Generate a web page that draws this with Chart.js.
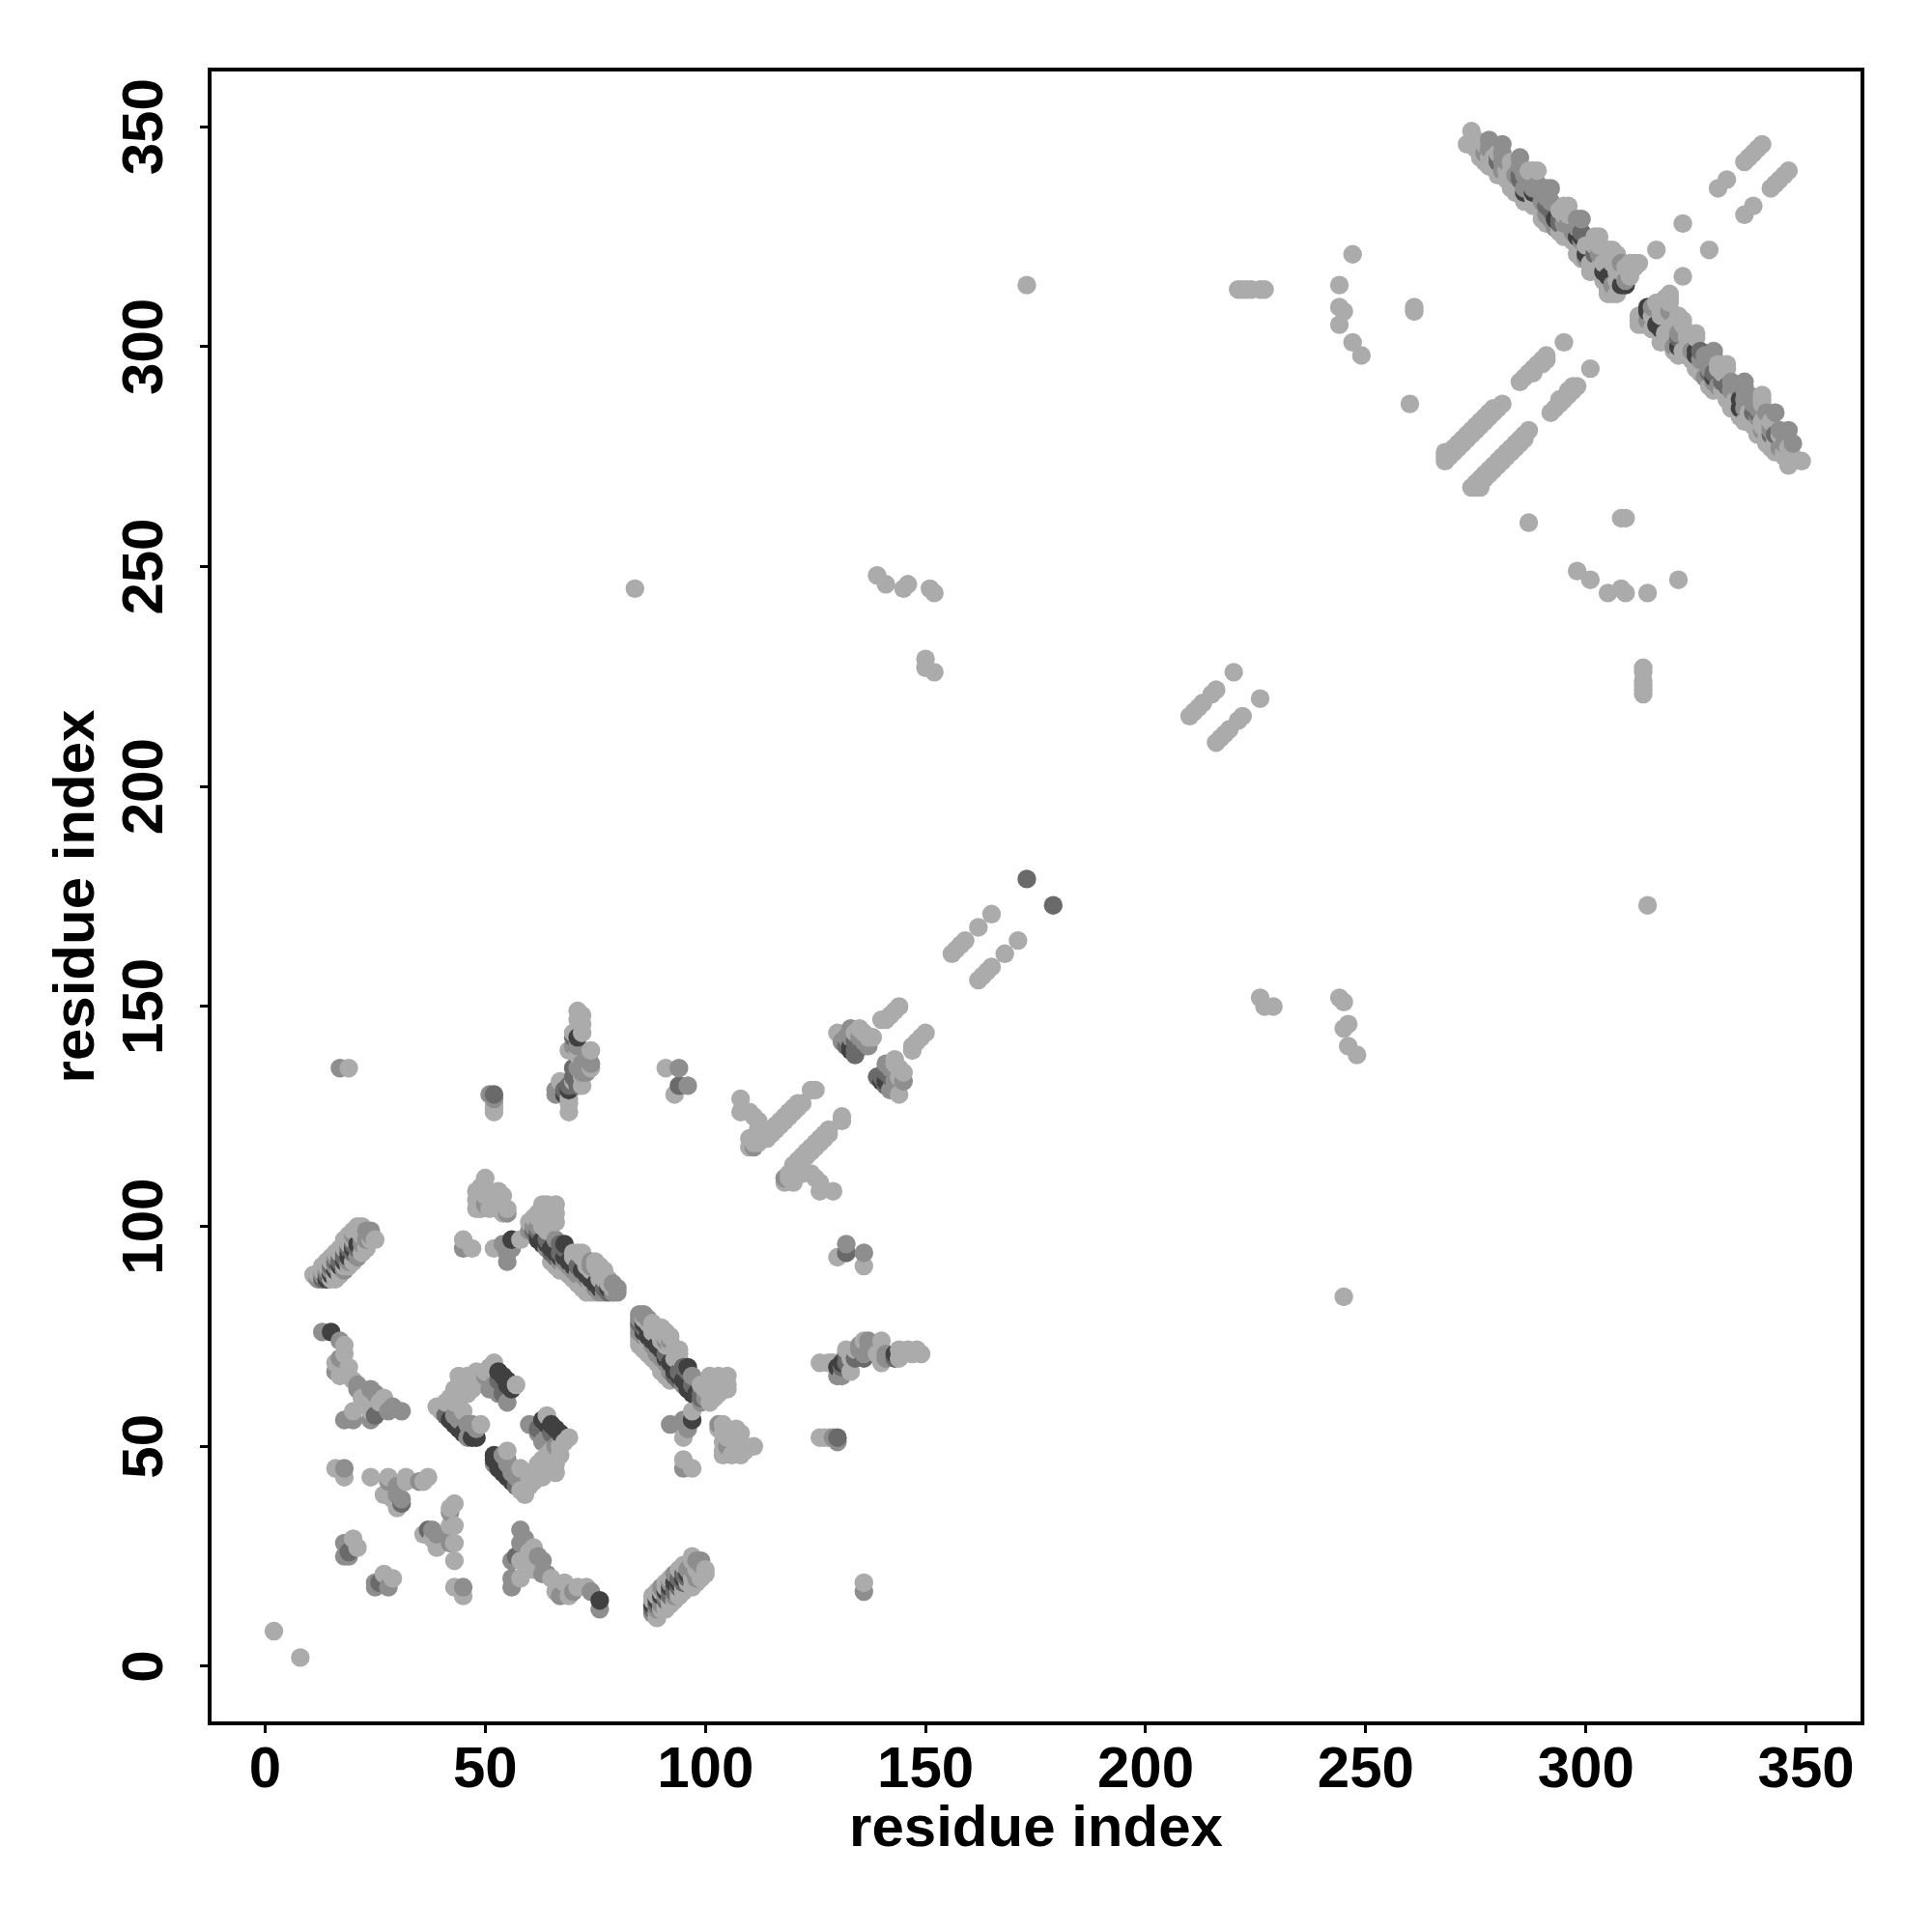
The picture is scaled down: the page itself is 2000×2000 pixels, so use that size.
<!DOCTYPE html>
<html>
<head>
<meta charset="utf-8">
<script src="https://cdn.jsdelivr.net/npm/chart.js@4"></script>
<style>
  html, body { margin: 0; padding: 0; background: #fff; }
</style>
</head>
<body>
<canvas id="myChart" width="2000" height="2000"></canvas>
<script>
// contacts as [i, j, level], only i < j is listed, the map is symmetric
const tickValues = [0, 50, 100, 150, 200, 250, 300, 350];

const contactsEnds = [[2,8,1]];
const contactsA = [
  [11,89,1],[12,88,2],[12,89,1],[13,88,3],[13,89,2],[13,90,1],[14,88,4],[14,89,3],[14,90,2],[14,91,1],
  [15,88,1],[15,89,4],[15,90,2],[15,92,1],[16,89,1],[16,90,4],[16,91,2],[16,93,2],[17,90,1],[17,91,4],
  [17,92,3],[17,94,1],[18,91,1],[18,92,4],[18,93,3],[18,95,1],[19,92,2],[19,93,4],[19,94,4],[19,96,1],
  [20,94,3],[20,95,4],[20,97,1],[20,98,2],[21,95,3],[21,96,4],[21,99,1],[21,100,1],[22,96,2],[22,97,2],
  [22,98,1],[22,100,1],[23,97,2],[23,99,2],[24,97,1],[24,98,2],[24,99,2],[25,97,1],
  [13,91,1],[14,92,1],[15,93,1],[16,94,1],[17,95,1],[18,97,1],[19,98,1],[20,99,1],
  [16,88,1],[17,89,1],[18,90,2],[19,91,1],[20,92,1],[21,93,2],[22,94,1],[23,95,1],
  [15,91,3],[16,92,3],[17,93,3],[18,94,3],[19,95,3],[20,96,3]
];
const contactsB = [
  [13,76,2],[15,76,4],[17,74,2],[18,73,1],[17,70,2],[16,69,1],[18,71,1],[19,68,1],[16,67,2],[17,66,1],
  [20,65,1],[21,64,2],[21,63,2],[24,63,2],[26,60,1],[27,61,1],[31,58,2],[28,58,2],[29,59,2],[24,56,2],
  [24,58,1],[25,57,3],[20,58,1],[18,56,2],[20,56,2],[22,61,1],[25,62,2]
];
const contactsC = [
  [39,59,1],[40,58,1],[41,60,1],[42,61,1],[43,63,1],[44,64,1],[45,65,1],[46,66,1],[48,67,1],[50,67,1],
  [51,68,1],[52,69,1],[50,66,2],[52,64,2],[53,65,3],[53,67,4],[54,62,3],[54,66,4],[55,60,2],[55,65,4],
  [55,64,4],[56,63,4],[57,64,1],[41,57,3],[42,56,4],[43,55,4],[44,54,4],[45,53,4],[46,52,2],[47,52,4],
  [48,52,4],[43,57,2],[44,56,2],[45,58,1],[46,55,2],[47,55,2],[48,54,2],[49,55,1],[44,60,1],[46,62,1],
  [48,64,1],[47,63,1],[43,60,1],[45,62,1],[44,66,1],[47,66,1],[49,65,1],[51,63,2],[53,62,2]
];
const contactsD = [
  [16,45,1],[18,45,2],[18,43,1],[24,43,1],[28,42,2],[28,43,1],[27,39,1],[30,39,2],[31,38,2],[30,36,1],
  [31,37,3],[32,43,1],[32,42,1],[35,42,2],[36,42,1],[37,43,1],[20,29,1],[18,28,2],[21,27,1],[19,26,3],
  [18,25,2],[19,25,2],[30,41,2],[29,38,1]
];
const contactsE = [
  [50,111,1],[49,109,1],[48,108,1],[48,106,1],[48,104,1],[50,105,2],[50,107,1],[50,109,1],[53,108,1],
  [52,106,1],[54,107,1],[55,104,1],[54,103,1],[52,105,1],[55,103,2],[45,97,1],[47,95,1],[45,95,2],
  [54,96,2],[56,97,4],[58,97,1],[52,95,1],[56,95,2],[55,94,2],[55,92,2],[49,104,1],[51,104,1],[53,104,1]
];
const contactsF = [
  [60,101,1],[60,99,2],[61,99,3],[61,100,2],[61,102,1],[62,97,4],[62,98,4],[62,99,3],[62,100,2],[62,102,1],
  [62,103,1],[63,96,4],[63,97,4],[63,100,1],[63,104,1],[63,105,1],[64,95,2],[64,96,4],[64,97,3],[64,99,1],
  [64,101,1],[64,103,1],[64,105,1],[65,94,3],[65,95,4],[65,104,1],[65,102,1],[66,93,3],[66,94,4],[66,97,2],
  [66,103,1],[66,105,1],[66,101,1],[67,92,2],[67,93,4],[67,94,3],[67,96,3],[68,93,4],[68,96,4],[68,92,2],
  [68,95,3],[69,91,2],[69,92,4],[70,90,2],[70,91,4],[70,94,1],[70,93,1],[71,91,3],[71,94,1],[71,89,2],
  [72,89,2],[72,90,4],[72,94,1],[72,93,1],[73,88,2],[73,89,4],[73,92,1],[73,91,1],[74,87,1],[74,88,4],
  [74,92,2],[74,91,2],[74,90,1],[75,85,1],[75,86,2],[75,87,4],[75,91,1],[75,92,1],[76,85,2],[76,86,4],
  [76,89,1],[76,88,1],[76,91,1],[77,85,2],[77,86,3],[77,88,1],[77,90,1],[78,85,3],[78,86,4],[78,88,1],
  [78,87,1],[79,85,2],[79,86,1],[79,87,2],[80,85,2],[80,86,2],
  [65,92,1],[66,91,1],[67,90,1],[68,90,1],[69,89,1],[70,88,1],[71,87,1],[72,86,1],[73,85,1],[74,85,1]
];
const contactsG = [
  [52,126,1],[52,127,1],[52,128,1],[51,130,2],[52,130,3],[52,129,2],[17,136,2],[19,136,1],
  [71,149,1],[72,148,1],[71,147,1],[72,146,1],[70,144,1],[70,143,3],[71,143,4],[72,144,1],[69,140,1],[70,141,2],[71,141,2],
  [71,139,1],[74,140,1],[74,137,2],[72,137,2],[74,136,1],[71,136,2],[70,136,3],[72,135,2],[73,135,2],[72,134,1],
  [72,132,1],[66,130,2],[66,131,2],[68,130,4],[68,131,3],[67,133,1],[69,131,4],[69,132,3],[69,129,1],[69,126,1],[69,128,1],
  [70,133,1],[70,134,3],[71,132,3],[91,136,1],[94,136,2],[96,132,2],[93,130,1],[94,132,3]
];
const contactsH = [
  [108,129,1],[108,126,1],[110,126,1],[111,125,1],[112,124,1],[112,122,1],[110,120,1],[111,119,1],[110,118,1],
  [113,122,1],[111,118,2],[112,119,1],[113,120,1],[114,121,1],[115,122,1],[116,123,1],[117,124,1],[118,125,1],
  [119,126,1],[120,127,1],[121,128,1],[122,128,1],[124,131,1],[125,131,1],[130,144,1],[131,142,2],[132,143,2],[132,141,3],[133,145,2],
  [133,143,2],[133,141,4],[133,140,4],[134,139,3],[134,140,3],[134,142,3],[134,144,1],[135,143,2],[135,141,3],[136,142,2],[137,143,1],
  [137,141,2],[136,141,3],[136,144,1],[138,143,1],[135,145,1],
  [140,147,1],[141,147,1],[142,148,1],[143,149,1],[144,150,1],[156,162,1],[157,163,1],[158,164,1],[159,165,1],
  [162,168,1],[165,171,1],[173,179,3],
  [112,120,1],[113,121,1],[114,120,1],[115,121,1],[116,122,1],[117,123,1],[118,124,1],[119,125,1],[120,126,1],[121,127,1]
];
const contactsI = [
  [84,245,1],[139,248,1],[141,246,1],[145,245,1],[146,246,1],[151,245,1],[152,244,1],[150,229,1],[150,227,1],
  [152,226,1],[173,314,1],[210,216,1],[211,217,1],[212,218,1],[213,219,1],[215,221,1],[216,222,1],[220,226,1],
  [221,313,1],[222,313,1],[223,313,1],[224,313,1],[226,313,1],[227,313,1],[244,314,1],[244,309,1],[245,308,1],
  [244,305,1],[247,301,1],[249,298,1],[247,321,1],[261,308,1],[261,309,1],[260,287,1]
];
const contactsJ = [
  [268,275,1],[268,274,1],[269,275,1],[270,277,1],[271,278,1],[272,279,1],[273,280,1],[274,281,1],[275,282,1],
  [276,283,1],[277,283,1],[278,284,1],[279,285,1],[280,286,1],[281,287,1],[285,292,1],[286,293,1],[288,295,1],
  [289,296,1],[290,297,1],[291,298,1],[295,301,1],[316,322,1],[322,328,1],[330,336,1],[332,338,1],[336,342,1],
  [337,343,1],[338,344,1],[339,345,1],[340,346,1],
  [268,276,1],[270,276,1],[271,277,1],[272,278,1],[273,279,1],[274,280,1],[275,281,1],[276,282,1],[277,284,1],
  [278,285,1],[279,286,1],[287,294,1],[288,294,1],[290,296,1],[291,297,1]
];
const contactsK = [
  [273,346,1],[274,349,1],[274,346,1],[274,347,1],[275,345,1],[275,347,1],[276,345,1],[276,343,1],
  [277,346,1],[277,344,2],[277,342,1],[278,347,2],[278,345,2],[278,343,1],[278,341,1],[279,343,1],[279,341,1],
  [280,343,3],[280,342,3],[280,344,1],[280,340,1],[280,339,1],[281,346,2],[281,344,2],[281,342,2],[281,340,2],[282,342,2],[282,340,1],
  [282,338,1],[283,342,1],[283,340,1],[283,336,1],[284,339,2],[284,337,1],[284,335,1],[285,343,2],[285,341,2],
  [285,339,3],[285,338,3],[285,337,1],[285,335,1],[286,339,2],[286,335,4],[286,336,2],[286,333,1],[287,340,1],[287,338,2],[288,340,1],
  [288,335,4],[288,334,1],[288,332,1],[288,336,2],[289,340,1],[289,337,2],[290,336,2],[290,333,2],[290,331,1],[290,329,1],[291,336,2],
  [291,334,2],[291,332,3],[291,330,2],[291,328,1],[292,336,2],[292,333,2],[292,331,3],[292,329,2],[293,329,4],
  [293,327,2],[294,331,1],[294,329,3],[294,328,3],[294,326,1],[295,332,1],[295,330,1],[295,328,2],[295,325,1],[296,332,1],[296,330,1],
  [296,328,2],[297,324,1],[297,326,2],[298,329,2],[298,327,2],[298,325,4],[298,323,1],[298,321,1],[299,329,2],
  [299,326,3],[299,325,4],[299,324,2],[299,322,1],[299,320,1],[300,321,4],[300,320,2],[300,323,1],[301,319,1],[301,317,1],
  [302,325,1],[302,323,1],[302,321,3],[302,318,1],[303,325,1],[303,323,1],[303,321,2],[303,318,1],[304,317,4],
  [304,315,1],[304,319,1],[305,322,1],[305,320,1],[305,316,4],[305,313,1],[305,312,1],[306,322,1],[306,319,1],
  [306,314,2],[306,312,1],[307,321,1],[307,317,1],[307,315,1],[307,312,1],[308,319,2],[308,317,1],[308,314,4],
  [309,318,1],[309,315,2],[309,314,4],[310,319,1],[310,318,1],[310,316,1],[311,319,1],[311,318,1],[312,319,1]
];

const GREYS = { 1: '#ababab', 2: '#8e8e8e', 3: '#6a6a6a', 4: '#404040' };

const contacts = [
  ...contactsEnds, ...contactsA, ...contactsB, ...contactsC, ...contactsD, ...contactsE,
  ...contactsF, ...contactsG, ...contactsH, ...contactsI, ...contactsJ, ...contactsK
];

// both halves of the map, drawn in residue order so later columns sit on top
const points = [];
contacts.forEach(([i, j, level]) => {
  points.push({ x: i, y: j, level });
  points.push({ x: j, y: i, level });
});
points.sort((a, b) => a.x - b.x || a.y - b.y);

const plotBox = {
  id: 'plotBox',
  afterDraw(chart) {
    const { ctx, chartArea: a } = chart;
    ctx.save();
    ctx.strokeStyle = '#000';
    ctx.lineWidth = 4;
    ctx.strokeRect(a.left, a.top, a.right - a.left, a.bottom - a.top);
    ctx.restore();
  }
};

const config = {
  type: 'scatter',
  data: {
    datasets: [{
      data: points,
      pointRadius: 9.7,
      pointHoverRadius: 9.7,
      pointBorderWidth: 0,
      pointBackgroundColor: points.map(p => GREYS[p.level])
    }]
  },
  plugins: [plotBox],
  options: {
    responsive: false,
    animation: false,
    layout: { padding: { top: 72, right: 72 } },
    plugins: { legend: { display: false }, tooltip: { enabled: false } },
    scales: {
      x: {
        type: 'linear',
        min: -12.6,
        max: 362.8,
        afterBuildTicks(scale) { scale.ticks = tickValues.map(v => ({ value: v })); },
        afterFit(scale) { scale.height = 216; },
        border: { color: '#000', width: 4 },
        grid: { drawOnChartArea: false, color: '#000', tickLength: 10, tickWidth: 3, tickColor: '#000' },
        ticks: {
          color: '#000',
          padding: 3,
          maxRotation: 0,
          minRotation: 0,
          font: { family: 'Liberation Sans', size: 60, weight: 'bold' }
        },
        title: {
          display: true,
          text: 'residue index',
          color: '#000',
          padding: { top: 0, bottom: 70 },
          font: { family: 'Liberation Sans', size: 60, weight: 'bold' }
        }
      },
      y: {
        type: 'linear',
        min: -12.96,
        max: 363,
        afterBuildTicks(scale) { scale.ticks = tickValues.map(v => ({ value: v })); },
        afterFit(scale) { scale.width = 217; },
        border: { color: '#000', width: 4 },
        grid: { drawOnChartArea: false, color: '#000', tickLength: 10, tickWidth: 3, tickColor: '#000' },
        ticks: {
          color: '#000',
          padding: 5,
          minRotation: 90,
          maxRotation: 90,
          crossAlign: 'center',
          font: { family: 'Liberation Sans', size: 60, weight: 'bold' }
        },
        title: {
          display: true,
          text: 'residue index',
          color: '#000',
          padding: { top: 44, bottom: 0 },
          font: { family: 'Liberation Sans', size: 60, weight: 'bold' }
        }
      }
    }
  }
};

function buildChart() {
  const ctx = document.getElementById('myChart').getContext('2d');
  return new Chart(ctx, config);
}

window.addEventListener('load', () => {
  buildChart();
});
</script>
</body>
</html>
